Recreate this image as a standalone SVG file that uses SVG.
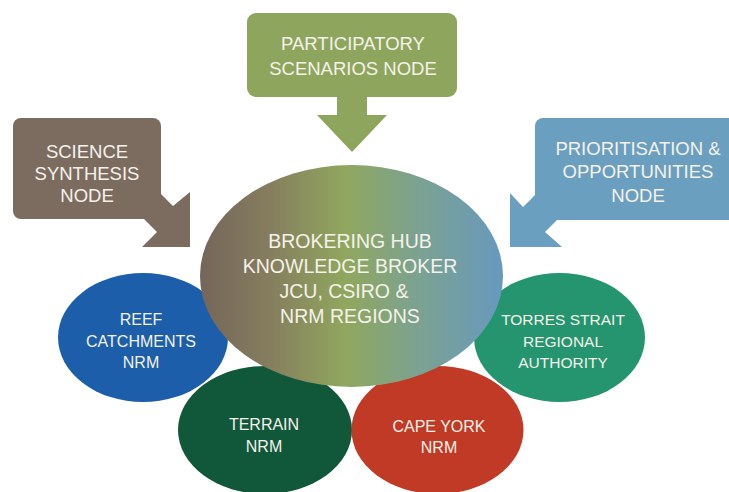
<svg xmlns="http://www.w3.org/2000/svg" width="729" height="492" viewBox="0 0 729 492">
<defs>
<linearGradient id="hubGrad" x1="0" y1="0" x2="1" y2="0">
<stop offset="0" stop-color="#74665a"/>
<stop offset="0.22" stop-color="#857c5e"/>
<stop offset="0.48" stop-color="#90a75e"/>
<stop offset="0.72" stop-color="#7ba291"/>
<stop offset="1" stop-color="#6899be"/>
</linearGradient>
<style>
text{font-family:"Liberation Sans",Arial,sans-serif;fill:#f5f2ea;text-anchor:middle}
.box{font-size:18.5px}
.hub{font-size:19.5px}
.sm{font-size:16px}
</style>
</defs>
<rect width="729" height="492" fill="#ffffff"/>
<g id="connectors">
<polygon fill="#7c6c60" points="161,194 173,206 190,192 190,247 142,247 157,232 144,219"/>
<polygon fill="#8ea55d" points="337,96 367,96 367,115 387,115 352,152 317,115 337,115"/>
<polygon fill="#6b9fc0" points="535,195 523,207 510,193 510,247 562,247 545,232 557,220"/>
</g>
<g id="science">
<rect x="13" y="118" width="148" height="101" rx="8" fill="#7c6c60"/>
<text class="box" x="87" y="158">SCIENCE</text>
<text class="box" x="87" y="180">SYNTHESIS</text>
<text class="box" x="87" y="202">NODE</text>
</g>
<g id="participatory">
<rect x="247" y="13" width="210" height="84" rx="9" fill="#8ea55d"/>
<text class="box" x="353" y="50">PARTICIPATORY</text>
<text class="box" x="353" y="75">SCENARIOS NODE</text>
</g>
<g id="prioritisation">
<rect x="535" y="118" width="204" height="102" rx="8" fill="#6b9fc0"/>
<text class="box" x="638" y="155">PRIORITISATION &amp;</text>
<text class="box" x="638" y="178">OPPORTUNITIES</text>
<text class="box" x="638" y="202">NODE</text>
</g>
<g id="reef">
<ellipse cx="143" cy="337.5" rx="85" ry="64.5" fill="#1c5ea9"/>
<text class="sm" x="141" y="325">REEF</text>
<text class="sm" x="141" y="347">CATCHMENTS</text>
<text class="sm" x="141" y="368">NRM</text>
</g>
<g id="torres">
<ellipse cx="559.5" cy="337.5" rx="85.5" ry="64.5" fill="#24956f"/>
<text class="sm" x="563" y="325" style="font-size:15.5px">TORRES STRAIT</text>
<text class="sm" x="563" y="347" style="font-size:15.5px">REGIONAL</text>
<text class="sm" x="563" y="368" style="font-size:15.5px">AUTHORITY</text>
</g>
<g id="terrain">
<ellipse cx="265" cy="430" rx="87" ry="64" fill="#11573a"/>
<text class="sm" x="264" y="430">TERRAIN</text>
<text class="sm" x="264" y="452">NRM</text>
</g>
<g id="capeyork">
<ellipse cx="437.5" cy="430" rx="86" ry="64" fill="#c13a26"/>
<text class="sm" x="439" y="432">CAPE YORK</text>
<text class="sm" x="439" y="453">NRM</text>
</g>
<g id="hub">
<ellipse cx="351.5" cy="276" rx="151.5" ry="111" fill="url(#hubGrad)"/>
<text class="hub" x="350" y="248">BROKERING HUB</text>
<text class="hub" x="350" y="273">KNOWLEDGE BROKER</text>
<text class="hub" x="344" y="298">JCU, CSIRO &amp;</text>
<text class="hub" x="350" y="323">NRM REGIONS</text>
</g>
</svg>
